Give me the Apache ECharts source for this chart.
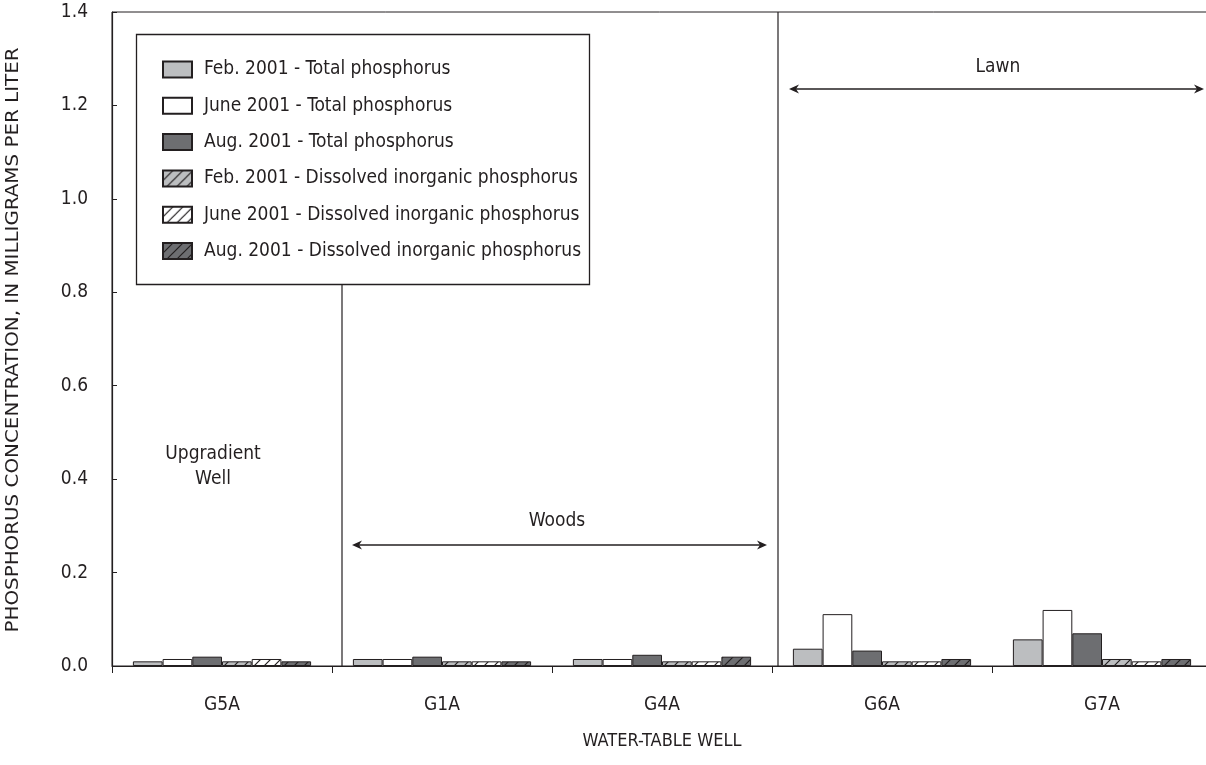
<!DOCTYPE html>
<html>
<head>
<meta charset="utf-8">
<script src="https://cdn.jsdelivr.net/npm/echarts@6/dist/echarts.min.js"></script>
<style>html,body{margin:0;padding:0;background:#fff}#chart{width:1206px;height:765px}</style>
</head>
<body>
<div id="chart"></div>
<script>
// ---- data ----
const categories = ['G5A', 'G1A', 'G4A', 'G6A', 'G7A'];
const seriesNames = [
  'Feb. 2001 - Total phosphorus',
  'June 2001 - Total phosphorus',
  'Aug. 2001 - Total phosphorus',
  'Feb. 2001 - Dissolved inorganic phosphorus',
  'June 2001 - Dissolved inorganic phosphorus',
  'Aug. 2001 - Dissolved inorganic phosphorus'
];
const febTotal   = [0.010, 0.015, 0.015, 0.037, 0.057];
const juneTotal  = [0.015, 0.015, 0.015, 0.111, 0.120];
const augTotal   = [0.020, 0.020, 0.024, 0.033, 0.070];
const febDiss    = [0.010, 0.010, 0.010, 0.010, 0.015];
const juneDiss   = [0.015, 0.010, 0.010, 0.010, 0.010];
const augDiss    = [0.010, 0.010, 0.020, 0.015, 0.015];
const yTicks = [0, 0.2, 0.4, 0.6, 0.8, 1.0, 1.2, 1.4];
const yTitle = 'PHOSPHORUS CONCENTRATION, IN MILLIGRAMS PER LITER';
const xTitle = 'WATER-TABLE WELL';

const INK = '#231f20';
const LIGHT = '#bcbec0';
const DARK = '#6d6e71';
const FONT = '"Liberation Sans Narrow", "DejaVu Sans Condensed", "Arial Narrow", sans-serif';

function hatch(bg) {
  const s = 10;
  const c = document.createElement('canvas');
  c.width = s; c.height = s;
  const g = c.getContext('2d');
  g.fillStyle = bg; g.fillRect(0, 0, s, s);
  g.strokeStyle = INK; g.lineWidth = 1.2;
  g.beginPath();
  g.moveTo(0, s); g.lineTo(s, 0);
  g.moveTo(-1, 1); g.lineTo(1, -1);
  g.moveTo(s - 1, s + 1); g.lineTo(s + 1, s - 1);
  g.stroke();
  return { image: c, repeat: 'repeat' };
}

const fills = [LIGHT, '#ffffff', DARK, hatch(LIGHT), hatch('#ffffff'), hatch(DARK)];
const values = [febTotal, juneTotal, augTotal, febDiss, juneDiss, augDiss];

const chart = echarts.init(document.getElementById('chart'), null, { renderer: 'canvas' });

function arrow(x1, x2, y) {
  const h = 10, w = 4.5;
  return [
    { type: 'line', shape: { x1: x1 + 3, y1: y, x2: x2 - 3, y2: y }, style: { stroke: INK, lineWidth: 1.3 }, z: 10 },
    { type: 'polygon', shape: { points: [[x1, y], [x1 + h, y - w], [x1 + h - 3, y], [x1 + h, y + w]] }, style: { fill: INK }, z: 10 },
    { type: 'polygon', shape: { points: [[x2, y], [x2 - h, y - w], [x2 - h + 3, y], [x2 - h, y + w]] }, style: { fill: INK }, z: 10 }
  ];
}

const option = {
  animation: false,
  backgroundColor: '#ffffff',
  textStyle: { fontFamily: FONT, color: INK },
  grid: { left: 112, top: 12, width: 1100, height: 654, outerBoundsMode: 'none', containLabel: false,
          show: true, borderColor: INK, borderWidth: 1, backgroundColor: 'transparent' },
  legend: {
    orient: 'vertical', left: 157, top: 55, z: 6,
    itemWidth: 29, itemHeight: 16, itemGap: 17.3,
    icon: 'rect',
    data: seriesNames,
    textStyle: { fontFamily: FONT, fontSize: 19, color: INK, padding: [0, 0, 0, 7] },
    selectedMode: false
  },
  xAxis: {
    type: 'category', data: categories,
    name: xTitle, nameLocation: 'middle', nameGap: 66,
    nameTextStyle: { fontFamily: FONT, fontSize: 18, color: INK },
    axisLine: { lineStyle: { color: INK, width: 1.2 } },
    axisTick: { show: true, alignWithLabel: false, length: 7, lineStyle: { color: INK } },
    axisLabel: { fontFamily: FONT, fontSize: 19, color: INK, margin: 30 }
  },
  yAxis: {
    type: 'value', min: yTicks[0], max: yTicks[yTicks.length - 1], interval: 0.2,
    axisLine: { show: true, lineStyle: { color: INK, width: 1.2 } },
    axisTick: { show: true, inside: true, length: 5, lineStyle: { color: INK } },
    splitLine: { show: false },
    axisLabel: { fontFamily: FONT, fontSize: 19, color: INK, margin: 24, formatter: v => v.toFixed(1) }
  },
  series: seriesNames.map((n, i) => ({
    name: n, type: 'bar', data: values[i],
    barGap: '0%', barCategoryGap: '19%',
    itemStyle: { color: fills[i], borderColor: INK, borderWidth: 1 }
  })),
  graphic: [
    { type: 'line', shape: { x1: 342, y1: 284, x2: 342, y2: 666 }, style: { stroke: INK, lineWidth: 1.2 }, z: 1 },
    { type: 'line', shape: { x1: 778, y1: 12, x2: 778, y2: 666 }, style: { stroke: INK, lineWidth: 1.2 }, z: 1 },
    { type: 'rect', shape: { x: 136.5, y: 34.5, width: 453, height: 250 }, style: { fill: '#ffffff', stroke: INK, lineWidth: 1.3 }, z: 3 },
    { type: 'text', x: 14, y: 340, rotation: Math.PI / 2, scaleX: 1.3,
      style: { text: yTitle, font: '17px ' + FONT, fill: INK, align: 'center', verticalAlign: 'middle' }, z: 10 },
    { type: 'text', x: 213, y: 467, style: { text: 'Upgradient\nWell', font: '19px ' + FONT, fill: INK, align: 'center', verticalAlign: 'middle', lineHeight: 25 }, z: 10 },
    { type: 'text', x: 557, y: 521, style: { text: 'Woods', font: '19px ' + FONT, fill: INK, align: 'center', verticalAlign: 'middle' }, z: 10 },
    { type: 'text', x: 998, y: 67, style: { text: 'Lawn', font: '19px ' + FONT, fill: INK, align: 'center', verticalAlign: 'middle' }, z: 10 },
    ...arrow(352, 767, 545),
    ...arrow(789, 1204, 89)
  ]
};
chart.setOption(option);
</script>
</body>
</html>
